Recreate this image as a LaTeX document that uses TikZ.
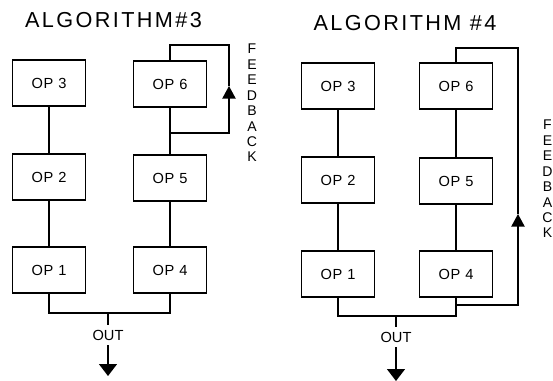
\documentclass[tikz,border=0pt]{standalone}
\usepackage{fontspec}
\setmainfont{Liberation Sans}
\usetikzlibrary{arrows.meta}

\tikzset{
  opbox/.style={draw, line width=0.9pt, minimum width=2.19cm, minimum height=1.38cm,
    inner sep=0pt, font=\fontsize{12.5}{14}\selectfont\addfontfeature{LetterSpace=5}},
  wire/.style={line width=1.2pt},
  outarrow/.style={line width=1.2pt, -{Triangle[width=0.54cm,length=0.36cm]}},
  fbarrow/.style={line width=1.2pt, -{Triangle[width=0.4cm,length=0.38cm]}},
  algtitle/.style={anchor=base, inner sep=0pt,
    font=\fontsize{18.5}{20}\selectfont\addfontfeature{LetterSpace=11}},
  outlabel/.style={inner sep=0pt, text height=8.6pt, text depth=0pt, outer sep=0.15cm,
    font=\fontsize{12.5}{14}\selectfont},
  fbtext/.style={inner sep=0pt, align=center, font=\fontsize{12}{13.2}\selectfont}
}

\begin{document}
\begin{tikzpicture}[x=0.03cm, y=-0.03cm]
  % Page size of the reference
  \useasboundingbox (0,0) rectangle (553,380);

  % Titles
  \node[algtitle] (T3) at (113.5,27) {ALGORITHM\#3};
  \node[algtitle] (T4) at (405,30) {ALGORITHM \#4};

  % Operator boxes of algorithm #3
  \node[opbox] (L3) at (49,83) {OP 3};
  \node[opbox] (L2) at (49,177) {OP 2};
  \node[opbox] (L1) at (49,270) {OP 1};
  \node[opbox] (L6) at (170,84) {OP 6};
  \node[opbox] (L5) at (170,178) {OP 5};
  \node[opbox] (L4) at (170,270) {OP 4};

  % Operator boxes of algorithm #4
  \node[opbox] (R3) at (338,86) {OP 3};
  \node[opbox] (R2) at (338,180) {OP 2};
  \node[opbox] (R1) at (338,274) {OP 1};
  \node[opbox] (R6) at (456,86) {OP 6};
  \node[opbox] (R5) at (456,181) {OP 5};
  \node[opbox] (R4) at (456,274) {OP 4};

  % Draw the chains
  \draw[wire] (L3) -- (L2) -- (L1);
  \draw[wire] (L6) -- (L5) -- (L4);
  \draw[wire] (R3) -- (R2) -- (R1);
  \draw[wire] (R6) -- (R5) -- (R4);

  % Output of algorithm #3
  \coordinate (LB1) at (49,313);
  \coordinate (LB4) at (170,313);
  \coordinate (LO) at (108,313);
  \coordinate (LTip) at (108,376);
  \node[outlabel] (LOut) at (108,335) {OUT};
  \draw[wire] (L1.south) -- (LB1) -- (LB4) -- (L4.south);
  \draw[wire] (LO) -- (LOut.north);
  \draw[outarrow] (LOut.south) -- (LTip);

  % Output of algorithm #4
  \coordinate (RB1) at (338,316);
  \coordinate (RB4) at (456,316);
  \coordinate (RO) at (396,316);
  \coordinate (RTip) at (396,381);
  \node[outlabel] (ROut) at (396,337) {OUT};
  \draw[wire] (R1.south) -- (RB1) -- (RB4) -- (R4.south);
  \draw[wire] (RO) -- (ROut.north);
  \draw[outarrow] (ROut.south) -- (RTip);

  % Feedback of algorithm #3 (OP 6 onto itself)
  \coordinate (LJ) at (170,133);
  \coordinate (LFa) at (229,133);
  \coordinate (LFtip) at (229,86);
  \coordinate (LFb) at (229,45);
  \coordinate (LFc) at (170,45);
  \draw[fbarrow] (LJ) -- (LFa) -- (LFtip);
  \draw[wire] (LFtip) -- (LFb) -- (LFc) -- (L6.north);
  \node[fbtext] (LFB) at (252,103) {F\\E\\E\\D\\B\\A\\C\\K};

  % Feedback of algorithm #4 (OP 4 back to OP 6)
  \coordinate (RJ) at (456,305);
  \coordinate (RFa) at (518,305);
  \coordinate (RFtip) at (518,214);
  \coordinate (RFb) at (518,48);
  \coordinate (RFc) at (456,48);
  \draw[fbarrow] (RJ) -- (RFa) -- (RFtip);
  \draw[wire] (RFtip) -- (RFb) -- (RFc) -- (R6.north);
  \node[fbtext] (RFB) at (547.5,179) {F\\E\\E\\D\\B\\A\\C\\K};
\end{tikzpicture}
\end{document}
